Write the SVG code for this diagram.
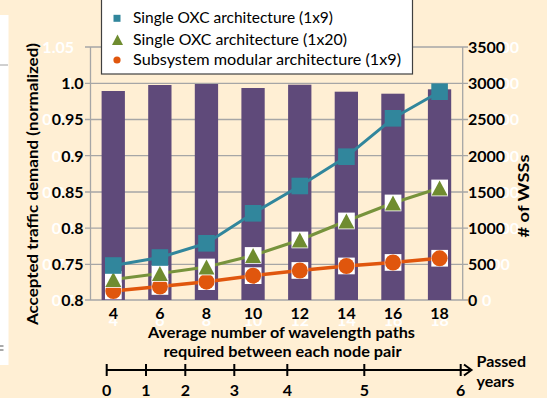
<svg xmlns="http://www.w3.org/2000/svg" width="547" height="398" viewBox="0 0 547 398">
  <style>
    .lbl { font-family: Lato, "Liberation Sans", sans-serif; font-weight: bold; font-size: 16px; fill: #000; }
    .ghost { font-family: Lato, "Liberation Sans", sans-serif; font-weight: bold; font-size: 16px; fill: #fff; }
    .leg { font-family: Lato, "Liberation Sans", sans-serif; font-size: 15px; fill: #000; }
    .grid { stroke: #a6a6a6; stroke-width: 1.3; fill: none; }
    .bar { fill: #5f4a7a; }
    .bg { fill: #fff; }
    .sq { fill: #31869c; }
    .tri { fill: #6f8c30; }
    .dot { fill: #e0560d; }
    .tl { stroke: #000; stroke-width: 2; fill: none; }
  </style>

  <!-- page background -->
  <rect x="0" y="0" width="547" height="398" fill="#ffefd4"/>
  <rect x="0" y="15" width="8.5" height="350" fill="#fff"/>
  <line x1="0" y1="65" x2="8" y2="65" stroke="#a0a0a0" stroke-width="1"/>
  <line x1="0" y1="346" x2="3.5" y2="346" stroke="#555" stroke-width="1"/>
  <line x1="0" y1="350" x2="3.5" y2="350" stroke="#555" stroke-width="1"/>

  <!-- gridlines and axes -->
  <g id="axes">
    <path class="grid" d="M85 47H468M85 83.3H468M85 119.5H468M85 155.7H468M85 192H468M85 228.2H468M85 264.4H468M85 300H468"/>
    <path class="grid" d="M90.5 47V300M462.7 47V300"/>
  </g>

  <!-- bars: number of WSSs -->
  <g id="bars">
    <rect class="bar" x="101.6" y="91" width="23.3" height="209"/>
    <rect class="bar" x="148.2" y="85" width="23.3" height="215"/>
    <rect class="bar" x="194.8" y="84" width="23.3" height="216"/>
    <rect class="bar" x="241.4" y="88" width="23.3" height="212"/>
    <rect class="bar" x="288.1" y="84.7" width="23.3" height="215.3"/>
    <rect class="bar" x="334.7" y="91.7" width="23.3" height="208.3"/>
    <rect class="bar" x="381.3" y="93.7" width="23.3" height="206.3"/>
    <rect class="bar" x="427.9" y="89.3" width="23.3" height="210.7"/>
  </g>

  <!-- series lines -->
  <g id="connectors" fill="none" stroke-linejoin="round">
    <polyline stroke="#e0560d" stroke-width="3.5" points="113.3,291 159.9,286.5 206.5,281.7 253.1,275.7 299.8,270.5 346.4,266 393,262.5 439.6,258.3"/>
    <polyline stroke="#77933c" stroke-width="3" points="113.3,279.5 159.9,273.5 206.5,267 253.1,255.5 299.8,240 346.4,221 393,203 439.6,188"/>
    <polyline stroke="#31869c" stroke-width="3" points="113.3,265.5 159.9,257.5 206.5,243.3 253.1,213.3 299.8,186 346.4,156.7 393,118.3 439.6,91.7"/>
  </g>

  <!-- subsystem modular (1x9) markers -->
  <g id="modular-1x9">
    <rect class="bg" x="105" y="282.6" width="16.7" height="16.7"/><circle class="dot" cx="113.3" cy="291" r="8"/>
    <rect class="bg" x="151.6" y="278.1" width="16.7" height="16.7"/><circle class="dot" cx="159.9" cy="286.5" r="8"/>
    <rect class="bg" x="198.2" y="273.3" width="16.7" height="16.7"/><circle class="dot" cx="206.5" cy="281.7" r="8"/>
    <rect class="bg" x="244.8" y="267.3" width="16.7" height="16.7"/><circle class="dot" cx="253.1" cy="275.7" r="8"/>
    <rect class="bg" x="291.5" y="262.1" width="16.7" height="16.7"/><circle class="dot" cx="299.8" cy="270.5" r="8"/>
    <rect class="bg" x="338.1" y="257.6" width="16.7" height="16.7"/><circle class="dot" cx="346.4" cy="266" r="8"/>
    <rect class="bg" x="384.7" y="254.1" width="16.7" height="16.7"/><circle class="dot" cx="393" cy="262.5" r="8"/>
    <rect class="bg" x="431.3" y="249.9" width="16.7" height="16.7"/><circle class="dot" cx="439.6" cy="258.3" r="8"/>
  </g>

  <!-- single OXC (1x20) markers -->
  <g id="single-1x20">
    <rect class="bg" x="105" y="271.1" width="16.7" height="16.7"/><path class="tri" d="M113.3 272 L121.3 287 L105.3 287 Z"/>
    <rect class="bg" x="151.6" y="265.1" width="16.7" height="16.7"/><path class="tri" d="M159.9 266 L167.9 281 L151.9 281 Z"/>
    <rect class="bg" x="198.2" y="258.6" width="16.7" height="16.7"/><path class="tri" d="M206.5 259.5 L214.5 274.5 L198.5 274.5 Z"/>
    <rect class="bg" x="244.8" y="247.1" width="16.7" height="16.7"/><path class="tri" d="M253.1 248 L261.1 263 L245.1 263 Z"/>
    <rect class="bg" x="291.5" y="231.6" width="16.7" height="16.7"/><path class="tri" d="M299.8 232.5 L307.8 247.5 L291.8 247.5 Z"/>
    <rect class="bg" x="338.1" y="212.6" width="16.7" height="16.7"/><path class="tri" d="M346.4 213.5 L354.4 228.5 L338.4 228.5 Z"/>
    <rect class="bg" x="384.7" y="194.6" width="16.7" height="16.7"/><path class="tri" d="M393 195.5 L401 210.5 L385 210.5 Z"/>
    <rect class="bg" x="431.3" y="179.6" width="16.7" height="16.7"/><path class="tri" d="M439.6 180.5 L447.6 195.5 L431.6 195.5 Z"/>
  </g>

  <!-- single OXC (1x9) markers -->
  <g id="single-1x9">
    <rect class="sq" x="105" y="257.2" width="16.6" height="16.6"/>
    <rect class="sq" x="151.6" y="249.2" width="16.6" height="16.6"/>
    <rect class="sq" x="198.2" y="235" width="16.6" height="16.6"/>
    <rect class="sq" x="244.8" y="205" width="16.6" height="16.6"/>
    <rect class="sq" x="291.5" y="177.7" width="16.6" height="16.6"/>
    <rect class="sq" x="338.1" y="148.4" width="16.6" height="16.6"/>
    <rect class="sq" x="384.7" y="110" width="16.6" height="16.6"/>
    <rect class="sq" x="431.3" y="83.4" width="16.6" height="16.6"/>
  </g>

  <!-- left axis labels -->
  <g id="left-axis">
    <g class="ghost" text-anchor="end">
      <text x="74" y="53">1.05</text>
      <text x="74" y="89">1</text>
      <text x="74" y="125">0.95</text>
      <text x="74" y="161.5">0.9</text>
      <text x="74" y="198">0.85</text>
      <text x="74" y="234">0.8</text>
      <text x="74" y="270">0.75</text>
      <text x="74" y="306">0.7</text>
    </g>
    <g class="lbl" text-anchor="end">
      <text x="83.5" y="89">1.0</text>
      <text x="83.5" y="125">0.95</text>
      <text x="83.5" y="161.5">0.9</text>
      <text x="83.5" y="198">0.85</text>
      <text x="83.5" y="234">0.8</text>
      <text x="83.5" y="270">0.75</text>
      <text x="83.5" y="306">0.8</text>
    </g>
    <text class="lbl" font-size="15" text-anchor="middle" transform="translate(38,184) rotate(-90)" textLength="282" lengthAdjust="spacingAndGlyphs">Accepted traffic demand (normalized)</text>
  </g>

  <!-- right axis labels -->
  <g id="right-axis">
    <g class="ghost">
      <text x="482" y="53">3500</text>
      <text x="482" y="89">3000</text>
      <text x="482" y="125">2500</text>
      <text x="482" y="161.5">2000</text>
      <text x="482" y="198">1500</text>
      <text x="482" y="234">1000</text>
      <text x="482" y="270">500</text>
      <text x="482" y="306">0</text>
    </g>
    <g class="lbl">
      <text x="468" y="53">3500</text>
      <text x="468" y="89">3000</text>
      <text x="468" y="125">2500</text>
      <text x="468" y="161.5">2000</text>
      <text x="468" y="198">1500</text>
      <text x="468" y="234">1000</text>
      <text x="468" y="270">500</text>
      <text x="468" y="306">0</text>
    </g>
    <text class="lbl" font-size="16" text-anchor="middle" transform="translate(529,196) rotate(-90)" textLength="83" lengthAdjust="spacingAndGlyphs"># of WSSs</text>
  </g>

  <!-- category labels -->
  <g id="x-axis" text-anchor="middle">
    <g class="ghost">
      <text x="113.3" y="326">4</text>
      <text x="159.9" y="326">6</text>
      <text x="206.5" y="326">8</text>
      <text x="253.1" y="326">10</text>
      <text x="299.8" y="326">12</text>
      <text x="346.4" y="326">14</text>
      <text x="393" y="326">16</text>
      <text x="439.6" y="326">18</text>
    </g>
    <g class="lbl" font-size="17">
      <text x="113.3" y="318.5">4</text>
      <text x="159.9" y="318.5">6</text>
      <text x="206.5" y="318.5">8</text>
      <text x="253.1" y="318.5">10</text>
      <text x="299.8" y="318.5">12</text>
      <text x="346.4" y="318.5">14</text>
      <text x="393" y="318.5">16</text>
      <text x="439.6" y="318.5">18</text>
    </g>
    <text class="lbl" font-size="15" x="281.5" y="338" textLength="267" lengthAdjust="spacingAndGlyphs">Average number of wavelength paths</text>
    <text class="lbl" font-size="15" x="282.5" y="357" textLength="238" lengthAdjust="spacingAndGlyphs">required between each node pair</text>
  </g>

  <!-- legend -->
  <g id="legend">
    <rect x="101.5" y="-2" width="311" height="76" fill="#fff" stroke="#404040" stroke-width="1.2"/>
    <rect class="sq" x="113.5" y="14.8" width="7" height="7"/>
    <path class="tri" d="M117.5 34.5 L123 45 L112 45 Z"/>
    <circle class="dot" cx="117" cy="60" r="3.6"/>
    <text class="leg" x="133" y="23" textLength="200" lengthAdjust="spacingAndGlyphs">Single OXC architecture (1x9)</text>
    <text class="leg" x="133" y="44.5" textLength="214" lengthAdjust="spacingAndGlyphs">Single OXC architecture (1x20)</text>
    <text class="leg" x="133" y="65" textLength="268" lengthAdjust="spacingAndGlyphs">Subsystem modular architecture (1x9)</text>
  </g>

  <!-- elapsed-years timeline -->
  <g id="timeline">
    <path class="tl" d="M106.7 370H471M106.7 364V376M146 364V376M185.3 364V376M234.3 364V376M287.3 364V376M364.3 364V376M460.7 364V376"/>
    <path class="tl" d="M464 364.5 L471.5 370 L464 375.5"/>
    <g class="lbl" text-anchor="middle">
      <text x="106.7" y="396">0</text>
      <text x="146" y="396">1</text>
      <text x="185.3" y="396">2</text>
      <text x="234.3" y="396">3</text>
      <text x="287.3" y="396">4</text>
      <text x="364.3" y="396">5</text>
      <text x="460.7" y="396">6</text>
    </g>
    <text class="lbl" x="476.5" y="367">Passed</text>
    <text class="lbl" x="476.5" y="386.5">years</text>
  </g>
</svg>
